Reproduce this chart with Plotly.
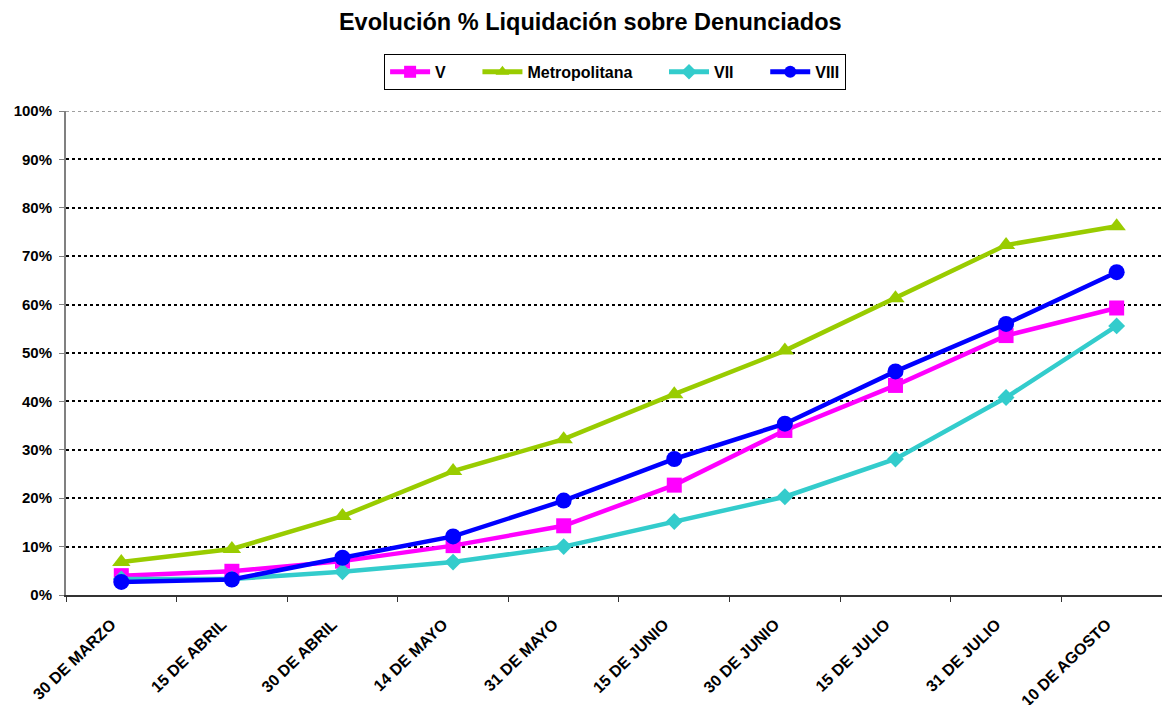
import plotly.graph_objects as go

# Fechas de corte (eje X)
fechas = ["30 DE MARZO", "15 DE ABRIL", "30 DE ABRIL", "14 DE MAYO", "31 DE MAYO",
          "15 DE JUNIO", "30 DE JUNIO", "15 DE JULIO", "31 DE JULIO", "10 DE AGOSTO"]

# % liquidación sobre denunciados por región
region_v = [0.040, 0.049, 0.070, 0.102, 0.143, 0.227, 0.340, 0.433, 0.536, 0.593]
region_metro = [0.068, 0.095, 0.163, 0.256, 0.322, 0.415, 0.505, 0.613, 0.723, 0.762]
region_vii = [0.033, 0.033, 0.048, 0.068, 0.100, 0.152, 0.203, 0.281, 0.408, 0.556]
region_viii = [0.027, 0.032, 0.077, 0.121, 0.195, 0.281, 0.354, 0.462, 0.560, 0.667]

FONT = "Arial, Liberation Sans, sans-serif"

series = [
    ("V", region_v, "#FF00FF", "square", 15),
    ("Metropolitana", region_metro, "#99CC00", "triangle-up", 16),
    ("VII", region_vii, "#33CCCC", "diamond", 13),
    ("VIII", region_viii, "#0000FF", "circle", 16),
]

fig = go.Figure()
for i, (name, vals, color, symbol, size) in enumerate(series):
    # espacio extra entre entradas de la leyenda (como en Excel)
    pad = "\u00a0" * 6 if i < len(series) - 1 else ""
    fig.add_trace(go.Scatter(x=fechas, y=vals, name="<b>%s</b>%s" % (name, pad),
                             mode="lines+markers",
                             line=dict(color=color, width=4.5),
                             marker=dict(symbol=symbol, size=size, color=color)))

fig.update_layout(
    width=1162, height=705,
    margin=dict(l=66, r=0, t=111, b=110, autoexpand=False),
    paper_bgcolor="white", plot_bgcolor="white",
    font=dict(family=FONT, color="black"),
    title=dict(text="<b>Evolución % Liquidación sobre Denunciados</b>",
               font=dict(size=23.5, family=FONT), xref="container", x=0.508,
               y=0.969, yanchor="middle", xanchor="center"),
    legend=dict(orientation="h", x=0.501, xanchor="center", y=1.118, yanchor="top",
                bordercolor="black", borderwidth=1, font=dict(size=16, family=FONT),
                itemwidth=40, itemsizing="constant", tracegroupgap=0),
    showlegend=True,
)

fig.update_xaxes(type="category", range=[-0.5, 9.41], tickson="boundaries",
                 automargin=False,
                 showgrid=False, showline=True, linecolor="#333333", linewidth=2,
                 ticks="outside", ticklen=5, tickcolor="#333333", tickwidth=1,
                 tickangle=-44, tickfont=dict(size=16, family=FONT),
                 ticklabelstandoff=12, ticklabelshift=-10,
                 ticktext=["<b>%s</b>" % f for f in fechas], tickvals=fechas)

fig.update_yaxes(range=[0, 1], automargin=False,
                 showgrid=True, gridcolor="black", gridwidth=2, griddash="3px,3px",
                 showline=True, linecolor="#808080", linewidth=2,
                 ticks="outside", ticklen=5, tickcolor="#808080",
                 tickfont=dict(size=15, family=FONT), zeroline=False,
                 ticklabelstandoff=4,
                 tickvals=[i / 10 for i in range(11)],
                 ticktext=["<b>%d%%</b>" % (i * 10) for i in range(11)])

# Línea superior del área de trazado (100%) en gris
fig.add_shape(type="line", xref="paper", yref="y", x0=0, x1=1, y0=1, y1=1,
              line=dict(color="#A0A0A0", width=2, dash="3px,3px"), layer="above")

# sin margen del body para que el gráfico quede en (0, 0)
fig.write_html("out.html", config={"displayModeBar": False},
               post_script="document.body.style.margin='0';")
